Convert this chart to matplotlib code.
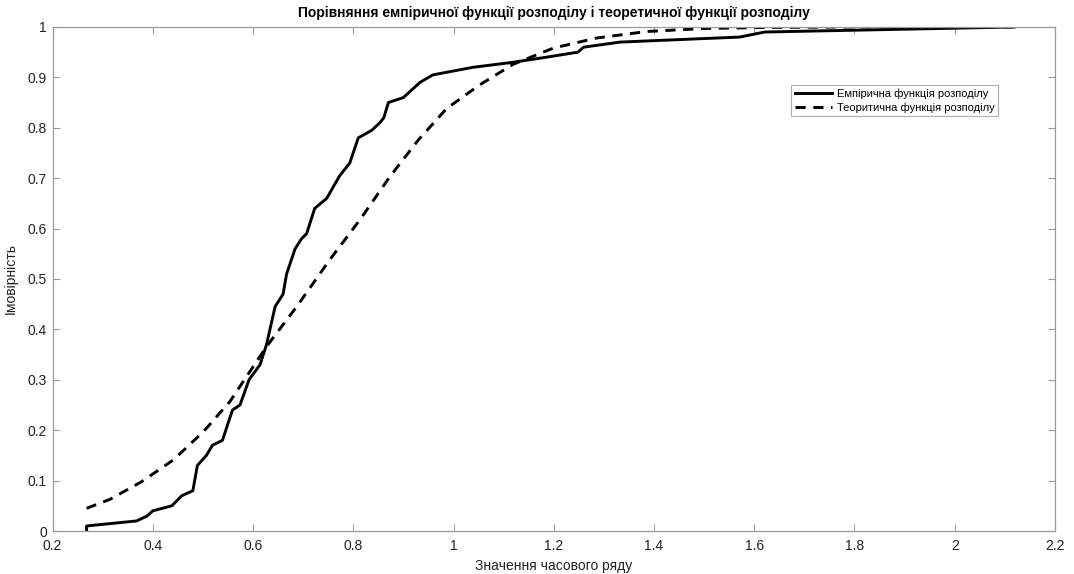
import matplotlib
matplotlib.use("Agg")
import matplotlib.pyplot as plt

plt.rcParams['font.family'] = ['Liberation Sans', 'DejaVu Sans']

# емпірична функція розподілу (ступінчаста крива)
emp_x = [0.268, 0.268, 0.368, 0.389, 0.400, 0.438, 0.458, 0.480, 0.489, 0.507,
         0.519, 0.539, 0.559, 0.574, 0.592, 0.614, 0.627, 0.644, 0.660, 0.667,
         0.684, 0.697, 0.707, 0.723, 0.747, 0.773, 0.793, 0.810, 0.837, 0.853,
         0.861, 0.870, 0.900, 0.933, 0.959, 1.039, 1.119, 1.185, 1.248, 1.260,
         1.332, 1.451, 1.571, 1.621, 2.119]
emp_y = [0.0, 0.01, 0.02, 0.03, 0.04, 0.05, 0.07, 0.08, 0.13, 0.15,
         0.17, 0.18, 0.24, 0.25, 0.30, 0.33, 0.37, 0.445, 0.47, 0.51,
         0.56, 0.58, 0.59, 0.64, 0.66, 0.705, 0.73, 0.78, 0.795, 0.81,
         0.82, 0.85, 0.86, 0.89, 0.905, 0.92, 0.93, 0.94, 0.95, 0.96,
         0.97, 0.975, 0.98, 0.99, 1.0]

# теоретична функція розподілу
theo_x = [0.268, 0.315, 0.378, 0.441, 0.501, 0.554, 0.627, 0.687, 0.753, 0.813,
          0.873, 0.930, 0.986, 1.052, 1.119, 1.199, 1.285, 1.385, 1.500, 1.624,
          1.800, 2.119]
theo_y = [0.045, 0.063, 0.098, 0.141, 0.197, 0.257, 0.366, 0.445, 0.538, 0.617,
          0.703, 0.776, 0.838, 0.885, 0.926, 0.958, 0.978, 0.991, 0.997, 0.999,
          1.0, 1.0]

x_ticks = [0.2, 0.4, 0.6, 0.8, 1.0, 1.2, 1.4, 1.6, 1.8, 2.0, 2.2]
x_tick_labels = ['0.2', '0.4', '0.6', '0.8', '1', '1.2', '1.4', '1.6', '1.8', '2', '2.2']
y_ticks = [0, 0.1, 0.2, 0.3, 0.4, 0.5, 0.6, 0.7, 0.8, 0.9, 1.0]
y_tick_labels = ['0', '0.1', '0.2', '0.3', '0.4', '0.5', '0.6', '0.7', '0.8', '0.9', '1']

fig = plt.figure(figsize=(10.74, 5.74), dpi=100)
ax = fig.add_axes([0.0489, 0.0749, 0.9334, 0.8781])

ax.plot(emp_x, emp_y, color='black', linewidth=2.1, solid_joinstyle='round',
        label='Емпірична функція розподілу')
ax.plot(theo_x, theo_y, color='black', linewidth=2.1, dashes=(3.5, 2.6),
        label='Теоритична функція розподілу')

ax.set_xlim(0.2, 2.2)
ax.set_ylim(0, 1)
ax.set_xticks(x_ticks)
ax.set_xticklabels(x_tick_labels)
ax.set_yticks(y_ticks)
ax.set_yticklabels(y_tick_labels)

axis_gray = '#9a9a9a'
for sp in ax.spines.values():
    sp.set_color(axis_gray)
    sp.set_linewidth(0.9)
ax.tick_params(direction='in', length=5, width=0.8, color=axis_gray,
               labelsize=10, labelcolor='#222222', top=True, right=True)
ax.tick_params(axis='x', pad=6)
ax.tick_params(axis='y', pad=4)

ax.set_title('Порівняння емпіричної функції розподілу і теоретичної функції розподілу',
             fontsize=10, fontweight='bold', pad=7)
ax.set_xlabel('Значення часового ряду', fontsize=10, labelpad=4, color='#222222')
ax.set_ylabel('Імовірність', fontsize=10, labelpad=7, color='#222222')

leg = ax.legend(loc='upper right', bbox_to_anchor=(0.943, 0.885), fontsize=8,
                frameon=True, fancybox=False, handlelength=3.4, handletextpad=0.4,
                borderpad=0.3, labelspacing=0.3, borderaxespad=0)
leg.get_frame().set_edgecolor(axis_gray)
leg.get_frame().set_linewidth(0.8)

fig.savefig('out.png', dpi=100)
